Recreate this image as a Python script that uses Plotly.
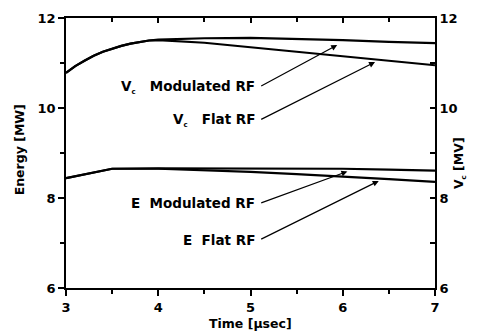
import plotly.graph_objects as go

# Data
t_vc = [3.0, 3.1, 3.2, 3.3, 3.4, 3.5, 3.6, 3.7, 3.8, 3.9, 4.0, 4.5, 5.0, 5.5, 6.0, 6.5, 7.0]
vc_modulated = [10.78, 10.93, 11.05, 11.16, 11.25, 11.32, 11.38, 11.43, 11.47, 11.50, 11.52,
                11.55, 11.56, 11.54, 11.51, 11.47, 11.44]
vc_flat = [10.78, 10.93, 11.05, 11.16, 11.25, 11.32, 11.38, 11.43, 11.47, 11.50, 11.51,
           11.45, 11.35, 11.25, 11.14, 11.04, 10.95]

t_e = [3.0, 3.5, 4.0, 4.5, 5.0, 5.5, 6.0, 6.5, 7.0]
e_modulated = [8.44, 8.65, 8.66, 8.66, 8.66, 8.66, 8.65, 8.63, 8.61]
e_flat = [8.44, 8.65, 8.65, 8.62, 8.58, 8.53, 8.48, 8.42, 8.36]

SUB_C = "<sub><span style='font-size:7px'>c</span></sub>"
labels = ["V" + SUB_C + "   Modulated RF", "V" + SUB_C + "   Flat RF",
          "E  Modulated RF", "E  Flat RF"]
label_pos = [(5.07, 10.47), (5.07, 9.73), (5.07, 7.88), (5.07, 7.07)]
arrow_tail = [(5.10, 10.47), (5.10, 9.73), (5.10, 7.88), (5.10, 7.07)]
arrow_head = [(5.94, 11.40), (6.35, 11.02), (6.05, 8.59), (6.39, 8.38)]

x_ticks = [3, 4, 5, 6, 7]
x_minor = [3.5, 4.5, 5.5, 6.5]
y_ticks = [6, 8, 10, 12]
y_minor = [7, 9, 11]

FONT = "DejaVu Sans"
line = dict(color="black", width=2.2)
fig = go.Figure()
fig.add_trace(go.Scatter(x=t_vc, y=vc_modulated, mode="lines", line=line, yaxis="y2", showlegend=False))
fig.add_trace(go.Scatter(x=t_vc, y=vc_flat, mode="lines", line=line, yaxis="y2", showlegend=False))
fig.add_trace(go.Scatter(x=t_e, y=e_modulated, mode="lines", line=line, showlegend=False))
fig.add_trace(go.Scatter(x=t_e, y=e_flat, mode="lines", line=line, showlegend=False))
# invisible trace for the top axis
fig.add_trace(go.Scatter(x=[3, 7], y=[6, 6], mode="lines", line=dict(width=0), xaxis="x2",
                         showlegend=False, hoverinfo="skip"))

tickfont = dict(family=FONT, size=13, color="black", weight="bold")
titlefont = dict(family=FONT, size=12.5, color="black", weight="bold")
common = dict(showline=True, linecolor="black", linewidth=1.8, showgrid=False, zeroline=False,
              tickcolor="black", tickwidth=1.6)
minor_style = dict(tickwidth=1.6, tickcolor="black", showgrid=False)

fig.update_layout(
    width=480, height=334,
    margin=dict(l=66, r=45, t=18, b=46),
    paper_bgcolor="white", plot_bgcolor="white",
    xaxis=dict(range=[3, 7], tickvals=x_ticks, ticks="outside", ticklen=6, tickfont=tickfont,
               minor=dict(tickvals=x_minor, ticks="outside", ticklen=4, **minor_style), **common),
    xaxis2=dict(range=[3, 7], overlaying="x", side="top", tickvals=x_ticks, ticks="inside", ticklen=5,
                showticklabels=False,
                minor=dict(tickvals=x_minor, ticks="inside", ticklen=4, **minor_style), **common),
    yaxis=dict(range=[6, 12], tickvals=y_ticks, ticks="outside", ticklen=6, tickfont=tickfont,
               minor=dict(tickvals=y_minor, ticks="outside", ticklen=4, **minor_style), **common),
    yaxis2=dict(range=[6, 12], overlaying="y", side="right", tickvals=y_ticks, ticks="inside", ticklen=5,
                tickfont=tickfont,
                minor=dict(tickvals=y_minor, ticks="inside", ticklen=5, **minor_style), **common),
)

# axis titles
fig.add_annotation(x=0.499, y=-0.133, xref="paper", yref="paper", text="Time [\u03bcsec]",
                   showarrow=False, xanchor="center", yanchor="middle", font=titlefont)
fig.add_annotation(x=-0.125, y=0.513, xref="paper", yref="paper", text="Energy [MW]", textangle=-90,
                   showarrow=False, xanchor="center", yanchor="middle", font=titlefont)
fig.add_annotation(x=1.068, y=0.463, xref="paper", yref="paper", text="V" + SUB_C + " [MV]", textangle=-90,
                   showarrow=False, xanchor="center", yanchor="middle", font=titlefont)

annfont = dict(family=FONT, size=13.5, color="black", weight="bold")
for txt, (lx, ly) in zip(labels, label_pos):
    fig.add_annotation(x=lx, y=ly, xref="x", yref="y", text=txt, showarrow=False,
                       xanchor="right", yanchor="middle", font=annfont)
for (tx, ty), (hx, hy) in zip(arrow_tail, arrow_head):
    fig.add_annotation(x=hx, y=hy, xref="x", yref="y", ax=tx, ay=ty, axref="x", ayref="y",
                       text="", showarrow=True, arrowhead=2, arrowsize=1, arrowwidth=1.2,
                       arrowcolor="black")

fig.write_html("out.html", config={"displayModeBar": False},
               post_script="document.body.style.margin='0';document.body.style.overflow='hidden';")
